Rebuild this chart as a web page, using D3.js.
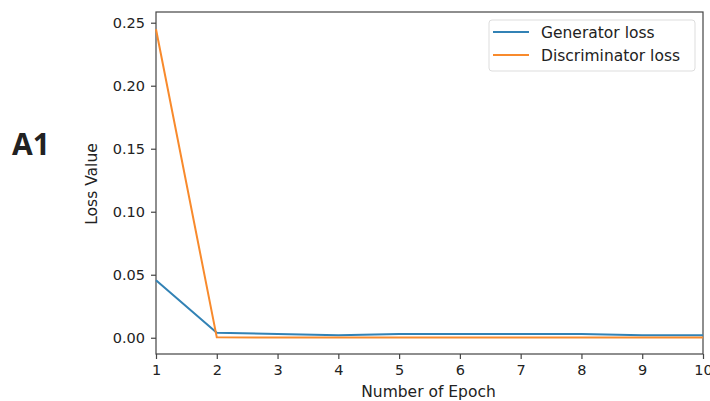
<!DOCTYPE html>
<html>
<head>
<meta charset="utf-8">
<script src="https://cdn.jsdelivr.net/npm/d3@7"></script>
<style>
  body { margin: 0; background: #fff; }
  svg text { font-family: "DejaVu Sans", sans-serif; fill: #222; }
</style>
</head>
<body>
<svg width="710" height="401"></svg>
<script>
// data
var epochs = [1, 2, 3, 4, 5, 6, 7, 8, 9, 10];
var generatorLoss = [0.0456, 0.004, 0.003, 0.002, 0.003, 0.003, 0.003, 0.003, 0.002, 0.002];
var discriminatorLoss = [0.2448, 0.0003, 0.0002, 0.0002, 0.0002, 0.0002, 0.0002, 0.0002, 0.0002, 0.0002];
var yTicks = [0.00, 0.05, 0.10, 0.15, 0.20, 0.25];
var seriesNames = ["Generator loss", "Discriminator loss"];
var seriesColors = ["#3282b5", "#f88a2c"];

var margin = {top: 12, right: 7, bottom: 47, left: 156},
    width = 710 - margin.left - margin.right,
    height = 401 - margin.top - margin.bottom;

var svg = d3.select("svg");
var g = svg.append("g").attr("transform", "translate(" + margin.left + "," + margin.top + ")");

var x = d3.scaleLinear().domain([1, 10]).range([0, width]);
var y = d3.scaleLinear().domain([-0.0129, 0.2585]).range([height, 0]);

// axes
var xAxis = g.append("g").attr("transform", "translate(0," + height + ")")
  .call(d3.axisBottom(x).tickValues(epochs).tickFormat(d3.format("d")).tickSize(5).tickPadding(6));
var yAxis = g.append("g")
  .call(d3.axisLeft(y).tickValues(yTicks).tickFormat(d3.format(".2f")).tickSize(5).tickPadding(6));
[xAxis, yAxis].forEach(function(a) {
  a.selectAll("text").style("font-size", "14.5px").attr("fill", "#222");
  a.selectAll("line").attr("stroke", "#444").attr("stroke-width", 1.2);
  a.select(".domain").remove();
});

// frame
g.append("rect").attr("width", width).attr("height", height)
  .attr("fill", "none").attr("stroke", "#444").attr("stroke-width", 1.2);

// lines
var line = d3.line().x(function(d, i) { return x(epochs[i]); }).y(function(d) { return y(d); });
[generatorLoss, discriminatorLoss].forEach(function(s, i) {
  g.append("path").datum(s).attr("d", line)
    .attr("fill", "none").attr("stroke", seriesColors[i]).attr("stroke-width", 2);
});

// labels
svg.append("text").attr("x", margin.left + width / 2 - 1).attr("y", 397)
  .attr("text-anchor", "middle").style("font-size", "15.5px").text("Number of Epoch");
svg.append("text").attr("transform", "translate(97," + 184 + ") rotate(-90)")
  .attr("text-anchor", "middle").style("font-size", "15.5px").text("Loss Value");
svg.append("text").attr("x", 12).attr("y", 155)
  .style("font-family", "'Open Sans', 'Liberation Sans', sans-serif")
  .style("font-weight", "bold").style("font-size", "30px").attr("fill", "#000").text("A1");

// legend
var legend = g.append("g").attr("transform", "translate(" + (489 - margin.left) + "," + (20 - margin.top) + ")");
legend.append("rect").attr("width", 206).attr("height", 51).attr("rx", 3)
  .attr("fill", "#fff").attr("stroke", "#ddd");
seriesNames.forEach(function(name, i) {
  var row = legend.append("g").attr("transform", "translate(0," + (12 + i * 23) + ")");
  row.append("line").attr("x1", 4).attr("x2", 40).attr("stroke", seriesColors[i]).attr("stroke-width", 2.2);
  row.append("text").attr("x", 52).attr("y", 5.5).style("font-size", "15.5px").text(name);
});
</script>
</body>
</html>
